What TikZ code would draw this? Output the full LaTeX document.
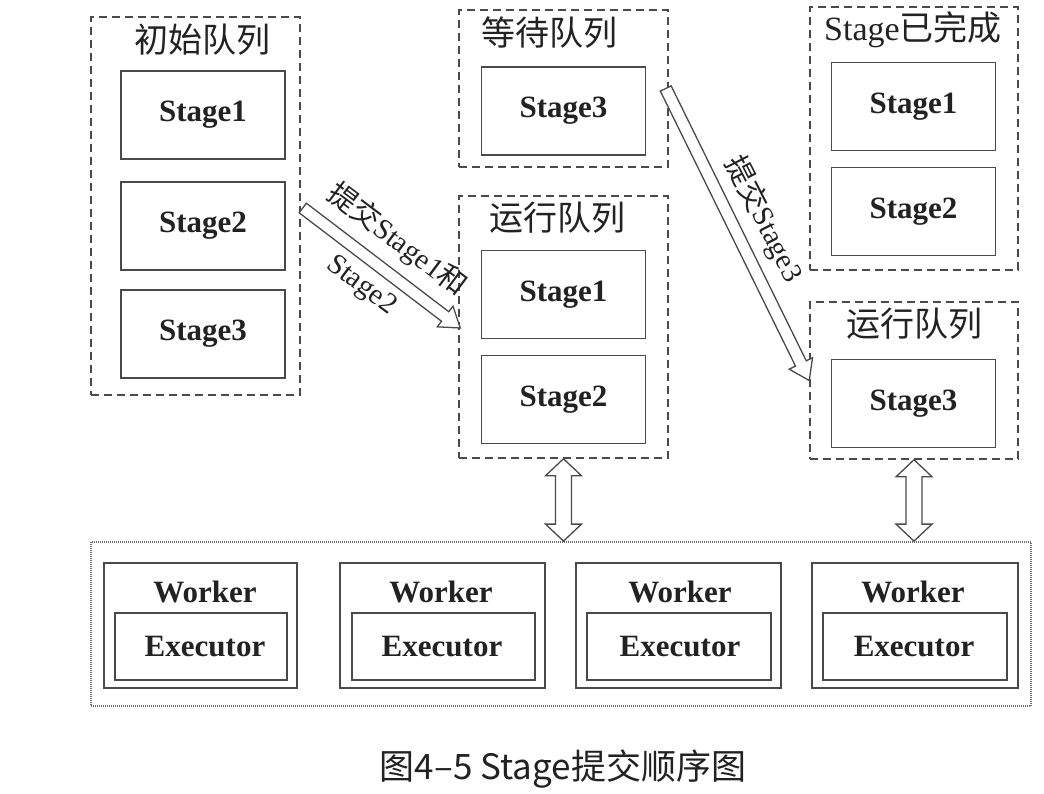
\documentclass[tikz,border=0pt]{standalone}
\usepackage{fontspec}
\setmainfont{Liberation Serif}
\newfontfamily\cjk{Noto Sans CJK SC}
\usetikzlibrary{calc}
\definecolor{linec}{HTML}{4A4A4A}
\definecolor{txt}{HTML}{222222}
\newcommand\harrow[5]{% from, to, half shaft, half head, head length
  \coordinate (ha-c) at ($(#2)!#5!(#1)$);
  \draw[arrowsty] ($(#1)!#3!90:(#2)$) -- ($(ha-c)!#3!90:(#2)$) -- ($(ha-c)!#4!90:(#2)$) -- (#2)
    -- ($(ha-c)!#4!-90:(#2)$) -- ($(ha-c)!#3!-90:(#2)$) -- ($(#1)!#3!-90:(#2)$) -- cycle;}
\newcommand\dharrow[5]{%
  \coordinate (hb-a) at ($(#1)!#5!(#2)$);
  \coordinate (hb-b) at ($(#2)!#5!(#1)$);
  \draw[arrowsty] (#1) -- ($(hb-a)!#4!90:(#2)$) -- ($(hb-a)!#3!90:(#2)$) -- ($(hb-b)!#3!90:(#2)$)
    -- ($(hb-b)!#4!90:(#2)$) -- (#2) -- ($(hb-b)!#4!-90:(#2)$) -- ($(hb-b)!#3!-90:(#2)$)
    -- ($(hb-a)!#3!-90:(#2)$) -- ($(hb-a)!#4!-90:(#2)$) -- cycle;}
\begin{document}
\begin{tikzpicture}[x=1pt,y=-1pt,
  grp/.style={draw=linec, line width=1.5pt, dash pattern=on 8pt off 5pt, inner sep=0pt},
  stagebox/.style={draw=linec, line width=1.8pt, minimum width=164pt, minimum height=88pt, inner sep=0pt,
    font=\fontsize{31}{31}\selectfont\bfseries, text=txt},
  title/.style={font=\fontsize{34}{34}\selectfont, text=txt, inner sep=0pt},
  pool/.style={draw=linec!80, line width=1.8pt, dash pattern=on 1pt off 1pt, inner sep=0pt},
  worker/.style={draw=linec, line width=2.2pt, minimum height=125pt, inner sep=0pt},
  exec/.style={draw=linec, line width=2pt, minimum height=67pt, inner sep=0pt},
  wtext/.style={font=\fontsize{31}{31}\selectfont\bfseries, text=txt, inner sep=0pt},
  arrowsty/.style={draw=linec, line width=1.3pt, fill=white, line join=miter},
  alabel/.style={font=\fontsize{29}{29}\selectfont, text=txt, inner sep=0pt}]
\useasboundingbox (0,0) rectangle (1044,794);
% groups
\node[grp, minimum width=209pt, minimum height=378pt] (init) at (195.5,206) {};
\node[grp, minimum width=209pt, minimum height=157pt] (wait) at (563.5,88.5) {};
\node[grp, minimum width=209pt, minimum height=262pt] (run1) at (563.5,327) {};
\node[grp, minimum width=208pt, minimum height=263pt] (done) at (914,138.5) {};
\node[grp, minimum width=208pt, minimum height=157pt] (run2) at (914,380.5) {};
% titles
\node[title] (t-init) at (202,40) {\cjk 初始队列};
\node[title] (t-wait) at (549,33) {\cjk 等待队列};
\node[title] (t-run1) at (557,218) {\cjk 运行队列};
\node[title] (t-done) at (913,30) {Stage{\cjk 已完成}};
\node[title] (t-run2) at (914,324) {\cjk 运行队列};
% stage boxes
\node[stagebox] (i1) at (203,115) {Stage1};
\node[stagebox] (i2) at (203,226) {Stage2};
\node[stagebox] (i3) at (203,334) {Stage3};
\node[stagebox] (w3) at (563.5,111) {Stage3};
\node[stagebox] (r1) at (563.5,294.5) {Stage1};
\node[stagebox] (r2) at (563.5,399.5) {Stage2};
\node[stagebox] (d1) at (913.5,106.5) {Stage1};
\node[stagebox] (d2) at (913.5,211.5) {Stage2};
\node[stagebox] (q3) at (913.5,403.5) {Stage3};
% worker pool
\node[pool, minimum width=940pt, minimum height=164pt] (pool) at (561,624) {};
\node[worker, minimum width=193pt] (wk1) at (200.5,625.5) {};
\node[worker, minimum width=205pt] (wk2) at (442.5,625.5) {};
\node[worker, minimum width=205pt] (wk3) at (678.5,625.5) {};
\node[worker, minimum width=206pt] (wk4) at (915,625.5) {};
\node[exec, minimum width=172pt] (ex1) at (201,646.5) {};
\node[exec, minimum width=183pt] (ex2) at (443.5,646.5) {};
\node[exec, minimum width=184pt] (ex3) at (679,646.5) {};
\node[exec, minimum width=184pt] (ex4) at (915,646.5) {};
\node[wtext] (wt1) at (205,592) {Worker};
\node[wtext] (wt2) at (441,592) {Worker};
\node[wtext] (wt3) at (680,592) {Worker};
\node[wtext] (wt4) at (913,592) {Worker};
\node[wtext] (et1) at (205,647) {Executor};
\node[wtext] (et2) at (442,647) {Executor};
\node[wtext] (et3) at (680,647) {Executor};
\node[wtext] (et4) at (914,647) {Executor};
% arrows
\coordinate (a1s) at ($(init.east)+(2,2)$);
\coordinate (a1e) at ($(run1.west)+(2,1)$);
\coordinate (a2s) at ($(wait.east)+(-3,0)$);
\coordinate (a2e) at ($(run2.west)+(0,0)$);
\harrow{a1s}{a1e}{6pt}{13pt}{19pt}
\harrow{a2s}{a2e}{6pt}{13pt}{19pt}
\coordinate (b1s) at (run1.south);
\coordinate (b1e) at (run1.south |- pool.north);
\coordinate (b2s) at (run2.south);
\coordinate (b2e) at (run2.south |- pool.north);
\dharrow{b1s}{b1e}{8pt}{18pt}{17pt}
\dharrow{b2s}{b2e}{8pt}{18pt}{17pt}
% arrow labels
\node[alabel, rotate=-37] (l1a) at (397,240) {{\cjk 提交}Stage1{\cjk 和}};
\node[alabel, rotate=-37] (l1b) at (361,286) {Stage2};
\node[alabel, rotate=-63] (l2) at (764,219) {{\cjk 提交}Stage3};
% caption
\node[font=\cjk\fontsize{35}{35}\selectfont, text=txt, inner sep=0pt] (cap) at (563,769) {图4–5 Stage提交顺序图};
\end{tikzpicture}
\end{document}
